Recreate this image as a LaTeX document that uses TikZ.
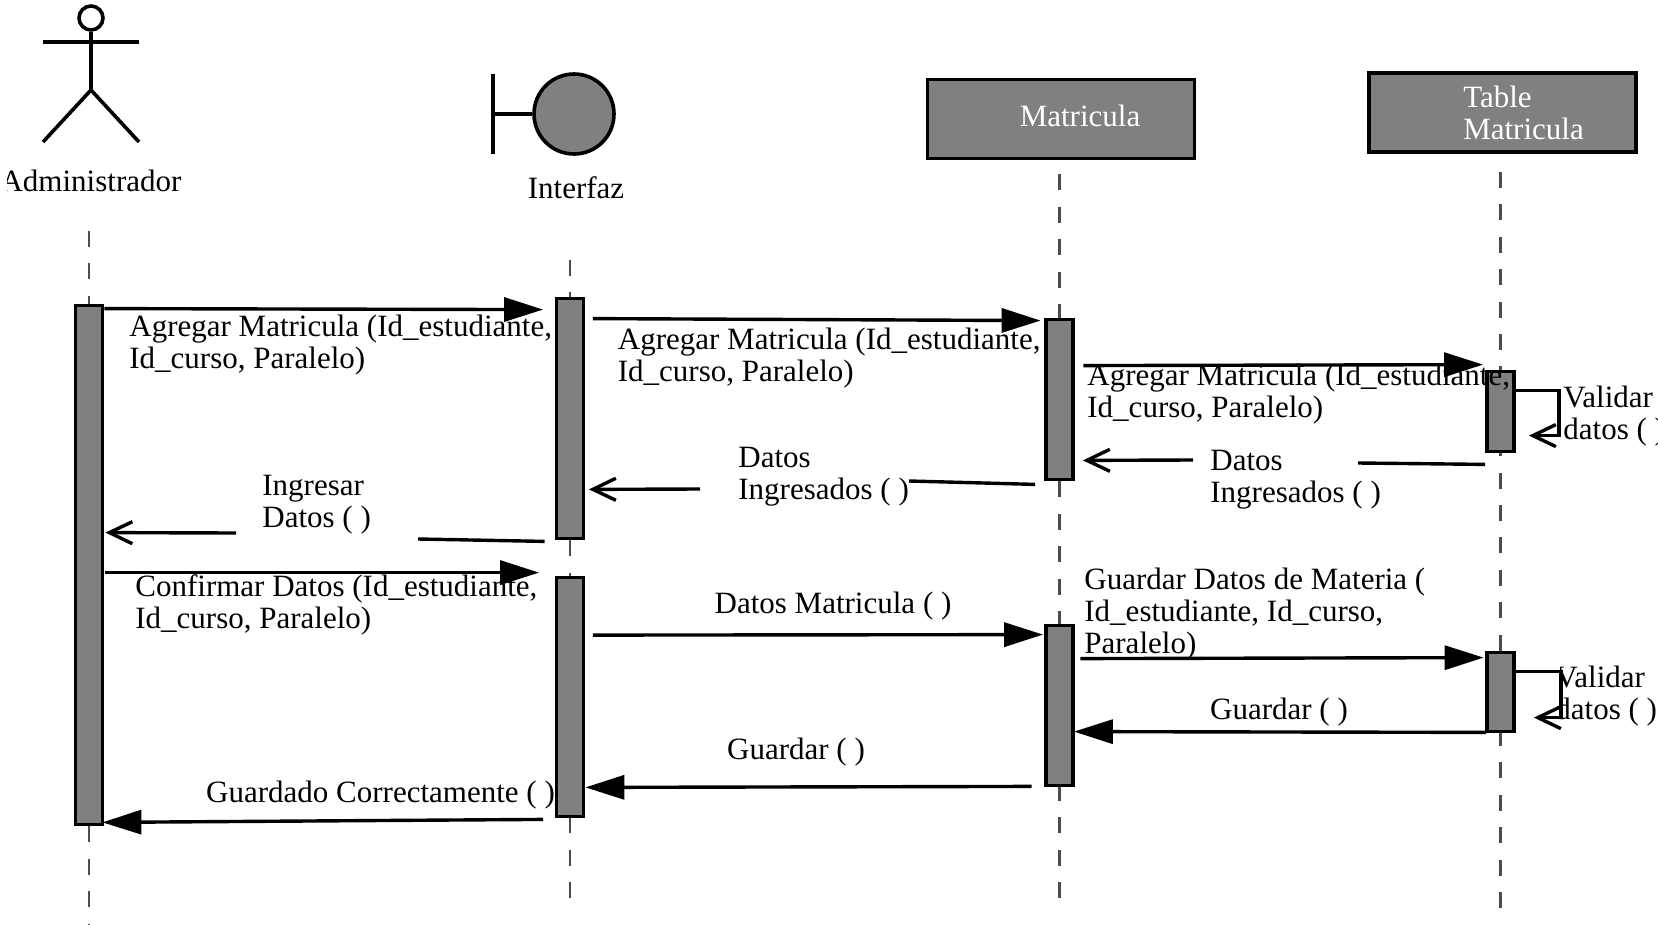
\documentclass[tikz,border=0pt]{standalone}
\usepackage{fontspec}
\setmainfont{Liberation Serif}
\usepackage{tikz}
\usetikzlibrary{arrows.meta, calc, positioning}
\definecolor{umlgray}{HTML}{808080}
\tikzset{
  lbl/.style={inner sep=0pt, align=left, font=\fontsize{15.5}{16}\selectfont},
  lblw/.style={lbl, anchor=west},
  classbox/.style={draw, fill=umlgray, line width=1.9pt, minimum width=133.5pt, minimum height=39.5pt, inner sep=0pt, text=white, font=\fontsize{15.5}{16}\selectfont},
  bar/.style={draw, fill=umlgray, line width=1.9pt, minimum width=13.5pt, inner sep=0pt},
  figure/.style={line width=1.8pt},
  life/.style={line width=1.2pt, black!70, dash pattern=on 8pt off 8.2pt},
  msg/.style={line width=1.7pt, -{Triangle[length=19.5pt,width=12pt]}},
  ret/.style={line width=1.7pt, -{Straight Barb[length=11.5pt,width=11pt]}},
  plain/.style={line width=1.7pt}
}
\begin{document}
\begin{tikzpicture}[x=0.5pt, y=-0.5pt]
\useasboundingbox (0,0) rectangle (1658,925);

\node (AdmHead) [draw, figure, circle, minimum size=12pt, inner sep=0pt] at (91,18) {};
\coordinate (AdmHip) at (91,90);
\coordinate (AdmArmL) at (43,42);
\coordinate (AdmArmR) at (139,42);
\coordinate (AdmFootL) at (43,142);
\coordinate (AdmFootR) at (139,142);
\draw[figure] (AdmHead.south) -- (AdmHip);
\draw[figure] (AdmArmL) -- (AdmArmR);
\draw[figure] (AdmFootL) -- (AdmHip) -- (AdmFootR);
\begin{scope}
\clip (7,150) rectangle (300,215);
\node (AdmLabel) [lbl] at (91,181) {Administrador};
\end{scope}

\node (IntCircle) [draw, figure, fill=umlgray, circle, minimum size=40pt, inner sep=0pt] at (574,114) {};
\coordinate (IntBarTop) at (493,74);
\coordinate (IntBarEnd) at (493,154);
\coordinate (IntBarMid) at (493,114);
\draw[figure] (IntBarTop) -- (IntBarEnd);
\draw[figure] (IntBarMid) -- (IntCircle.west);
\node (IntLabel) [lbl] at (576,188) {Interfaz};

\node (MatBox) [classbox] at (1061,119) {\hspace*{19pt}\raisebox{3pt}{Matricula}};
\node (TabBox) [classbox, align=left] at (1502.5,112.5) {\hspace*{21pt}Table\\\hspace*{21pt}Matricula};

\node (AdmBar) [bar, minimum height=259.5pt] at (89,565) {};
\node (IntBarA) [bar, minimum height=120pt] at (570,418.5) {};
\node (IntBarB) [bar, minimum height=119.5pt] at (570,697) {};
\node (MatBarA) [bar, minimum height=80pt] at (1059.5,399.5) {};
\node (MatBarB) [bar, minimum height=80pt] at (1059.5,705.5) {};
\node (TabBarA) [bar, minimum height=40pt] at (1500.5,411.5) {};
\node (TabBarB) [bar, minimum height=39.5pt] at (1500.5,692) {};

\coordinate (AdmTop) at (89,231);
\coordinate (AdmEnd) at (89,925);
\coordinate (IntTop) at (570,260);
\coordinate (IntEnd) at (570,898);
\coordinate (MatEnd) at (1059.5,898);
\coordinate (TabEnd) at (1500.5,908);
\draw[life] (AdmTop) -- (AdmBar.north);
\draw[life] (AdmBar.south) -- (AdmEnd);
\draw[life] (IntTop) -- (IntBarA.north);
\draw[life] (IntBarA.south) -- (IntBarB.north);
\draw[life] (IntEnd) -- (IntBarB.south);
\draw[life, shorten <=7pt] ([xshift=-0.75pt]MatBox.south) -- (MatBarA.north);
\draw[life] (MatBarA.south) -- (MatBarB.north);
\draw[life] (MatEnd) -- (MatBarB.south);
\draw[life, shorten <=9pt] ([xshift=-1pt]TabBox.south) -- (TabBarA.north);
\draw[life] (TabEnd) -- (TabBarB.south);
\draw[life] (TabBarB.north) -- (TabBarA.south);

\draw[msg] ([shift={(0,5)}]AdmBar.north east) -- ([shift={(-11.5,13)}]IntBarA.north west);
\draw[msg] ([shift={(7.5,22)}]IntBarA.north east) -- ([shift={(-3.5,3)}]MatBarA.north west);
\draw[msg] ([shift={(8.5,48)}]MatBarA.north east) -- ([shift={(-2,-5)}]TabBarA.north west);
\draw[msg] ([shift={(1,269)}]AdmBar.north east) -- ([shift={(-15.5,-3)}]IntBarB.north west);
\draw[msg] ([shift={(7.5,59.5)}]IntBarB.north east) -- ([shift={(-1,11)}]MatBarB.north west);
\draw[msg] ([shift={(5.5,35)}]MatBarB.north east) -- ([shift={(-1.5,7)}]TabBarB.north west);
\draw[msg] ([shift={(1,-1)}]TabBarB.south west) -- ([shift={(-1,108)}]MatBarB.north east);
\draw[msg] ([shift={(-12.5,-1)}]MatBarB.south west) -- ([shift={(0,-31)}]IntBarB.south east);
\draw[msg] ([shift={(-11.5,1)}]IntBarB.south west) -- ([shift={(-2,-4)}]AdmBar.south east);

\draw[ret] ([shift={(0,21)}]TabBarA.north east) -- ++(43,0) -- ++(0,45) -- ++(-30,0);
\draw[ret] ([shift={(0,21)}]TabBarB.north east) -- ++(45,0) -- ++(0,46) -- ++(-27,0);

\coordinate (RetTabR) at (1358,463);
\coordinate (RetTabL) at (1193,460);
\draw[plain] ([shift={(0,11)}]TabBarA.south west) -- (RetTabR);
\draw[ret] (RetTabL) -- ([shift={(8,-21)}]MatBarA.south east);
\coordinate (RetMatR) at (909,481);
\coordinate (RetMatL) at (700,489);
\draw[plain] ([shift={(-9,3)}]MatBarA.south west) -- (RetMatR);
\draw[ret] (RetMatL) -- ([shift={(3.5,-51)}]IntBarA.south east);
\coordinate (RetIntR) at (418,539);
\coordinate (RetIntL) at (236,533);
\draw[plain] ([shift={(-10,1)}]IntBarA.south west) -- (RetIntR);
\draw[ret] (RetIntL) -- ([shift={(1,229)}]AdmBar.north east);

\node (LblAgregarA) [lblw] at (129,345) {Agregar Matricula (Id\_estudiante,\\Id\_curso, Paralelo)};
\node (LblAgregarB) [lblw] at (617.5,358) {Agregar Matricula (Id\_estudiante,\\Id\_curso, Paralelo)};
\node (LblAgregarC) [lblw] at (1087,394.5) {Agregar Matricula (Id\_estudiante,\\Id\_curso, Paralelo)};
\node (LblValidarA) [lblw] at (1563,416) {Validar\\datos ( )};
\node (LblDatosA) [lblw] at (1210,480) {Datos\\Ingresados ( )};
\node (LblDatosB) [lblw] at (738,477) {Datos\\Ingresados ( )};
\node (LblIngresar) [lblw] at (262,505) {Ingresar\\Datos ( )};
\node (LblConfirmar) [lblw] at (135,604.5) {Confirmar Datos (Id\_estudiante,\\Id\_curso, Paralelo)};
\node (LblDatosMat) [lbl] at (833,606) {Datos Matricula ( )};
\node (LblGuardarDatos) [lblw] at (1084,614) {Guardar Datos de Materia (\\Id\_estudiante, Id\_curso,\\Paralelo)};
\begin{scope}
\clip (1560,650) rectangle (1658,740);
\node (LblValidarB) [lblw] at (1555,696) {Validar\\datos ( )};
\end{scope}
\node (LblGuardarA) [lbl] at (1279,712) {Guardar ( )};
\node (LblGuardarB) [lbl] at (796,752) {Guardar ( )};
\node (LblGuardado) [lbl] at (380.5,795) {Guardado Correctamente ( )};
\end{tikzpicture}
\end{document}
